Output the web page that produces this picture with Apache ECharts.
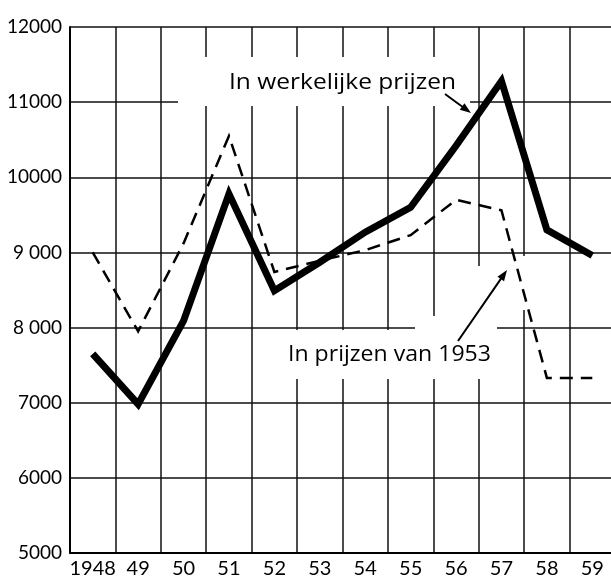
<!DOCTYPE html>
<html>
<head>
<meta charset="utf-8">
<script src="https://cdn.jsdelivr.net/npm/echarts@6/dist/echarts.min.js"></script>
<style>
  html, body { margin: 0; padding: 0; background: #fff; }
  #chart { width: 611px; height: 576px; }
</style>
</head>
<body>
<div id="chart"></div>
<script>
// ---- data ----
const years = ['1948', '49', '50', '51', '52', '53', '54', '55', '56', '57', '58', '59'];
const werkelijkePrijzen = [7650, 6980, 8090, 9780, 8490, 8870, 9270, 9600, 10420, 11280, 9300, 8960];
const prijzen1953 = [9000, 7950, 9120, 10550, 8740, 8890, 9030, 9230, 9700, 9560, 7330, 7330];
const yTickLabels = { 5000: '5000', 6000: '6000', 7000: '7000', 8000: '8 000', 9000: '9 000', 10000: '10000', 11000: '11000', 12000: '12000' };
const labelWerkelijk = 'In werkelijke prijzen';
const label1953 = 'In prijzen van 1953';

const FONT = 'Lato, "Open Sans", sans-serif';
const ANNOT_FONT = '22px "Open Sans", Lato, sans-serif';
const chart = echarts.init(document.getElementById('chart'), null, { renderer: 'canvas' });

// horizontal stretch so that annotation text spans the same width as in the reference
const measureCtx = document.createElement('canvas').getContext('2d');
function stretch(text, targetWidth) {
  measureCtx.font = ANNOT_FONT;
  const w = measureCtx.measureText(text).width;
  return w > 0 ? targetWidth / w : 1;
}

function arrow(x1, y1, x2, y2) {
  const dx = x2 - x1, dy = y2 - y1, len = Math.hypot(dx, dy);
  const ux = dx / len, uy = dy / len;
  const hl = 11, hw = 4;
  const bx = x2 - ux * hl, by = y2 - uy * hl;
  return [
    { type: 'line', z: 10, shape: { x1: x1, y1: y1, x2: bx + ux * 2, y2: by + uy * 2 }, style: { stroke: '#000', lineWidth: 2 } },
    { type: 'polygon', z: 10, shape: { points: [[x2, y2], [bx - uy * hw, by + ux * hw], [bx + uy * hw, by - ux * hw]] }, style: { fill: '#000' } }
  ];
}

const masks = [
  [178, 57, 292, 49],
  [284, 330, 213, 49],
  [415, 316, 82, 16],
  [444, 266, 53, 52],
  [521, 256, 10, 54]
].map(r => ({ type: 'rect', z: 1, shape: { x: r[0], y: r[1], width: r[2], height: r[3] }, style: { fill: '#fff' } }));

chart.setOption({
  backgroundColor: '#fff',
  animation: false,
  grid: { left: 70, right: -4, top: 27, bottom: 23, containLabel: false, outerBoundsMode: 'none' },
  xAxis: {
    type: 'category',
    data: years,
    boundaryGap: true,
    axisLine: { show: true, lineStyle: { color: '#000', width: 2 } },
    axisTick: { show: false },
    splitLine: { show: true, interval: 0, lineStyle: { color: '#111', width: 1.5 } },
    axisLabel: { interval: 0, margin: 6, color: '#000', fontSize: 20, fontFamily: FONT }
  },
  yAxis: {
    type: 'value',
    min: 5000,
    max: 12000,
    interval: 1000,
    axisLine: { show: true, lineStyle: { color: '#000', width: 2 } },
    axisTick: { show: false },
    splitLine: { show: true, lineStyle: { color: '#111', width: 1.5 } },
    axisLabel: {
      margin: 8, color: '#000', fontSize: 19, fontFamily: FONT,
      verticalAlign: 'middle', padding: [0, 0, 14, 0],
      formatter: v => yTickLabels[v] || String(v)
    }
  },
  graphic: {
    elements: masks.concat([
      { type: 'text', z: 10, x: 229, y: 83, scaleX: stretch(labelWerkelijk, 227), style: { text: labelWerkelijk, fill: '#000', font: ANNOT_FONT, verticalAlign: 'middle' } },
      { type: 'text', z: 10, x: 288, y: 355, scaleX: stretch(label1953, 203), style: { text: label1953, fill: '#000', font: ANNOT_FONT, verticalAlign: 'middle' } }
    ]).concat(arrow(445, 94, 471, 113)).concat(arrow(458, 341, 507, 270))
  },
  series: [
    {
      name: labelWerkelijk,
      type: 'line',
      data: werkelijkePrijzen,
      symbol: 'none',
      z: 3,
      lineStyle: { color: '#000', width: 7, join: 'miter', cap: 'butt' }
    },
    {
      name: label1953,
      type: 'line',
      data: prijzen1953,
      symbol: 'none',
      z: 4,
      lineStyle: { color: '#000', width: 2.5, type: [13, 8], join: 'miter', cap: 'butt' }
    }
  ]
});
</script>
</body>
</html>
